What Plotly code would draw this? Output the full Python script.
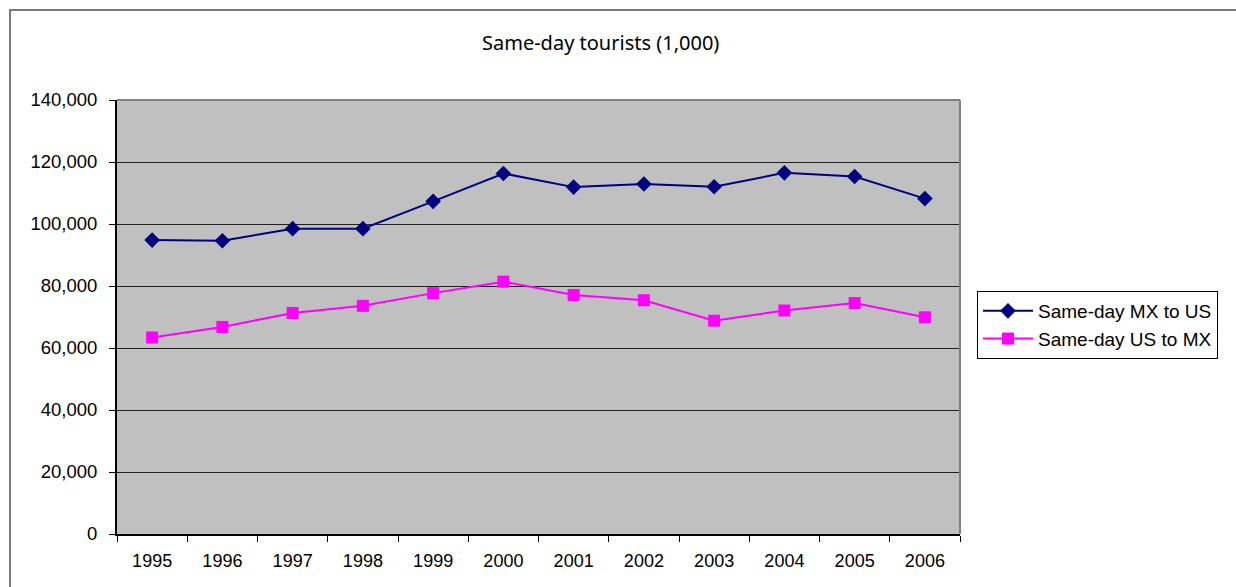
import plotly.graph_objects as go

years = ["1995", "1996", "1997", "1998", "1999", "2000", "2001", "2002", "2003", "2004", "2005", "2006"]
mx_to_us = [94800, 94600, 98500, 98500, 107300, 116300, 111900, 112900, 112000, 116500, 115300, 108200]
us_to_mx = [63400, 66800, 71300, 73600, 77700, 81400, 77100, 75400, 68800, 72100, 74500, 69900]
y_ticks = [0, 20000, 40000, 60000, 80000, 100000, 120000, 140000]

W, H = 1236, 587
L, R, T, B = 117, 960, 100, 534

def px_x(p):
    return (p - L) / (R - L)

def px_y(p):
    return (B - p) / (B - T)

fig = go.Figure()
fig.add_trace(go.Scatter(
    x=years, y=mx_to_us, name="Same-day MX to US", mode="lines+markers",
    line=dict(color="#000080", width=2),
    marker=dict(symbol="diamond", size=12, color="#000080"),
))
fig.add_trace(go.Scatter(
    x=years, y=us_to_mx, name="Same-day US to MX", mode="lines+markers",
    line=dict(color="#FF00FF", width=2),
    marker=dict(symbol="square", size=12, color="#FF00FF"),
))

font = "Liberation Sans, Arial, sans-serif"

fig.update_layout(
    width=W, height=H,
    margin=dict(l=L, r=W - R, t=T, b=H - B, pad=0),
    paper_bgcolor="white",
    plot_bgcolor="#C0C0C0",
    font=dict(family=font, size=18, color="black"),
    showlegend=True,
    legend=dict(
        x=px_x(977), y=px_y(291), xanchor="left", yanchor="top",
        bgcolor="white", bordercolor="black", borderwidth=1,
        font=dict(family=font, size=19, color="black"),
        tracegroupgap=0, itemwidth=50,
    ),
    xaxis=dict(
        type="category", tickson="boundaries", ticks="outside", ticklen=6,
        tickcolor="black", tickwidth=1,
        showline=True, linecolor="black", linewidth=2,
        showgrid=False, zeroline=False,
        tickfont=dict(family=font, size=18),
        ticklabelstandoff=9,
        range=[-0.5, 11.5],
    ),
    yaxis=dict(
        range=[0, 140000], tickvals=y_ticks, tickformat=",",
        ticks="outside", ticklen=6, tickcolor="black", tickwidth=1,
        showline=True, linecolor="black", linewidth=2,
        showgrid=True, gridcolor="#202020", gridwidth=1,
        zeroline=False,
        tickfont=dict(family=font, size=18.5),
        ticklabelstandoff=8,
    ),
    annotations=[dict(
        text="Same-day tourists (1,000)", xref="paper", yref="paper",
        x=px_x(600), y=px_y(42), xanchor="center", yanchor="middle",
        showarrow=False, font=dict(family="Noto Sans, Open Sans, sans-serif", size=20, color="black"),
    )],
    shapes=[
        dict(type="line", xref="paper", yref="paper", x0=0, x1=1, y0=1, y1=1,
             line=dict(color="#808080", width=2), layer="above"),
        dict(type="line", xref="paper", yref="paper", x0=1, x1=1, y0=0, y1=1,
             line=dict(color="#808080", width=2), layer="above"),
        dict(type="rect", xref="paper", yref="paper",
             x0=px_x(10), x1=px_x(1300), y0=px_y(650), y1=px_y(10),
             line=dict(color="#505050", width=1.5), layer="below"),
    ],
)

fig.write_html(
    "out.html",
    config={"displayModeBar": False},
    post_script="document.body.style.margin='0';document.body.style.padding='0';document.body.style.overflow='hidden';",
)
